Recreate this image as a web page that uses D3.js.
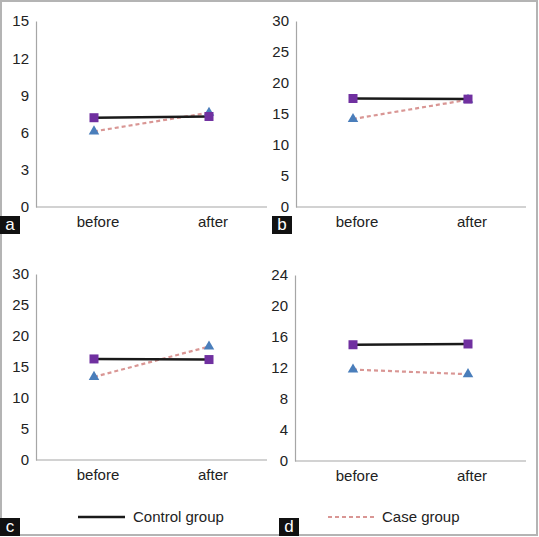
<!DOCTYPE html>
<html><head><meta charset="utf-8">
<script src="https://cdn.jsdelivr.net/npm/d3@7"></script>
<style>body{margin:0;background:#fff}svg{display:block}text{font-family:"Liberation Sans",Arial,sans-serif}</style>
</head><body>
<svg id="c" width="539" height="537"></svg>
<script>
const categories = ["before", "after"];
const panelNames = ["a", "b", "c", "d"];
const controlA = [7.2, 7.3], caseA = [6.1, 7.6];
const controlB = [17.5, 17.4], caseB = [14.2, 17.3];
const controlC = [16.3, 16.2], caseC = [13.4, 18.3];
const controlD = [15.0, 15.1], caseD = [11.8, 11.2];
const ticksA = [0, 3, 6, 9, 12, 15];
const ticksB = [0, 5, 10, 15, 20, 25, 30];
const ticksC = [0, 5, 10, 15, 20, 25, 30];
const ticksD = [0, 4, 8, 12, 16, 20, 24];
const legendLabels = ["Control group", "Case group"];

const svg = d3.select("#c");
svg.append("rect").attr("x",1).attr("y",1).attr("width",536).attr("height",534)
  .attr("fill","none").attr("stroke","#b4b4b4").attr("stroke-width",2);

const panels = [
  {name:"a", ctrl:controlA, cas:caseA, ticks:ticksA, ax:36, top:21, bot:207, xs:[94,209], xend:267, box:[0,216]},
  {name:"b", ctrl:controlB, cas:caseB, ticks:ticksB, ax:296, top:21, bot:207, xs:[353,468], xend:526, box:[272,216]},
  {name:"c", ctrl:controlC, cas:caseC, ticks:ticksC, ax:36, top:274, bot:460, xs:[94,209], xend:267, box:[0,518]},
  {name:"d", ctrl:controlD, cas:caseD, ticks:ticksD, ax:295, top:275, bot:461, xs:[353,468], xend:526, box:[279,518]}
];

panels.forEach(p => {
  const g = svg.append("g");
  const y = d3.scaleLinear().domain([0, d3.max(p.ticks)]).range([p.bot, p.top]);
  const step = p.xs[1]-p.xs[0];
  const x = d3.scalePoint().domain(categories).range(p.xs);
  // y axis
  const ya = g.append("g").attr("transform",`translate(${p.ax},0)`)
    .call(d3.axisLeft(y).tickValues(p.ticks).tickSize(0).tickPadding(7));
  ya.select(".domain").attr("stroke","#a6a6a6").attr("stroke-width",1.2);
  ya.selectAll("text").attr("font-size",15).attr("fill","#222");
  // x axis line
  g.append("line").attr("x1",p.ax).attr("x2",p.xend).attr("y1",p.bot).attr("y2",p.bot)
    .attr("stroke","#a6a6a6").attr("stroke-width",1.2);
  g.selectAll("text.xl").data(categories).join("text").attr("class","xl")
    .attr("x",d=>x(d)+4).attr("y",p.bot+20).attr("text-anchor","middle")
    .attr("font-size",15).attr("fill","#222").text(d=>d);
  const line = d3.line().x((d,i)=>x(categories[i])).y(d=>y(d));
  g.append("path").datum(p.cas).attr("d",line).attr("fill","none")
    .attr("stroke","#d99694").attr("stroke-width",2.2).attr("stroke-dasharray","4,3");
  g.append("path").datum(p.ctrl).attr("d",line).attr("fill","none")
    .attr("stroke","#1a1a1a").attr("stroke-width",2.5);
  g.selectAll("path.tri").data(p.cas).join("path").attr("class","tri")
    .attr("transform",(d,i)=>`translate(${x(categories[i])},${y(d)})`)
    .attr("d",d3.symbol(d3.symbolTriangle,48)).attr("fill","#4a7ebb");
  g.selectAll("rect.sq").data(p.ctrl).join("rect").attr("class","sq")
    .attr("x",(d,i)=>x(categories[i])-4.5).attr("y",d=>y(d)-4.5)
    .attr("width",9).attr("height",9).attr("fill","#7030a0");
  // panel label
  g.append("rect").attr("x",p.box[0]).attr("y",p.box[1]).attr("width",20).attr("height",18).attr("fill","#111");
  g.append("text").attr("x",p.box[0]+10).attr("y",p.box[1]+14).attr("text-anchor","middle")
    .attr("font-size",17).attr("fill","#fff").text(p.name);
});

// legend
const lg = svg.append("g");
lg.append("line").attr("x1",78).attr("x2",125).attr("y1",517).attr("y2",517).attr("stroke","#1a1a1a").attr("stroke-width",2.5);
lg.append("text").attr("x",133).attr("y",522).attr("font-size",15).attr("fill","#222").text(legendLabels[0]);
lg.append("line").attr("x1",328).attr("x2",376).attr("y1",517).attr("y2",517).attr("stroke","#d99694").attr("stroke-width",2.2).attr("stroke-dasharray","4,3");
lg.append("text").attr("x",382).attr("y",522).attr("font-size",15).attr("fill","#222").text(legendLabels[1]);
</script>
</body></html>
